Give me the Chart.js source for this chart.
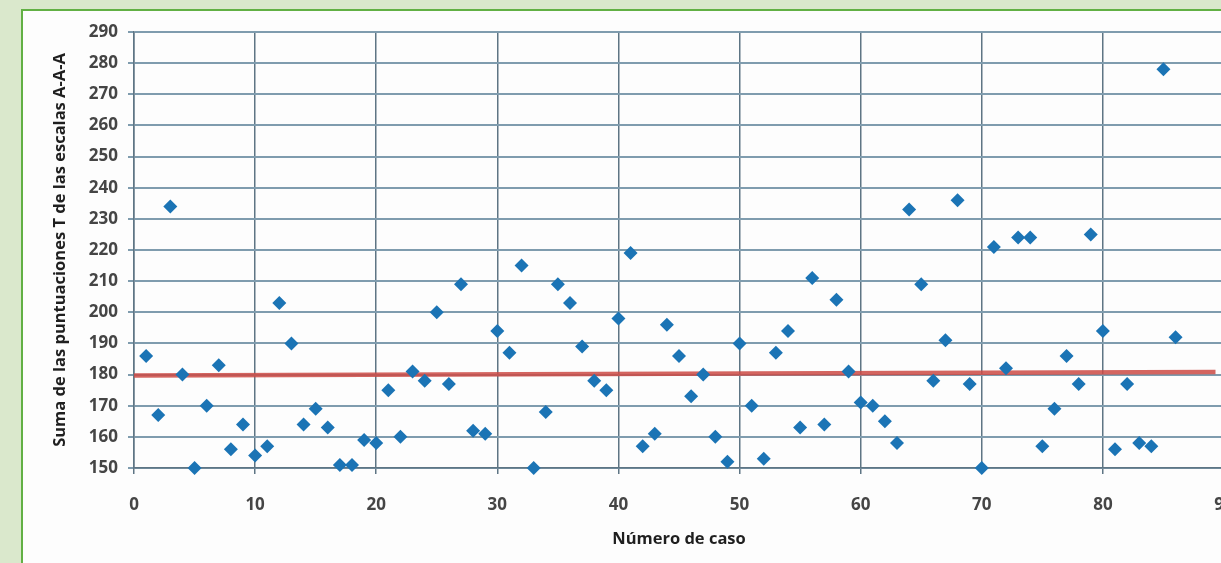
<!DOCTYPE html>
<html lang="es">
<head>
<meta charset="utf-8">
<title>Suma de las puntuaciones T</title>
<script src="https://cdn.jsdelivr.net/npm/chart.js@4/dist/chart.umd.min.js"></script>
<style>
    html, body {
        margin: 0;
        padding: 0;
        width: 1221px;
        height: 563px;
        overflow: hidden;
        background: #dae8cc;
    }
    .panel {
        position: absolute;
        left: 21px;
        top: 9px;
        width: 1300px;
        height: 700px;
        border: 2px solid #62b044;
        background: #fdfdfd;
    }
    #scoresChart {
        position: absolute;
        left: 0;
        top: 0;
    }
</style>
</head>
<body>
<div class="panel"></div>
<canvas id="scoresChart" width="1260" height="563"></canvas>
<script>
// Número de caso (eje X)
const caseNumbers = [
    1, 2, 3, 4, 5, 6, 7, 8, 9, 10,
    11, 12, 13, 14, 15, 16, 17, 18, 19, 20,
    21, 22, 23, 24, 25, 26, 27, 28, 29, 30,
    31, 32, 33, 34, 35, 36, 37, 38, 39, 40,
    41, 42, 43, 44, 45, 46, 47, 48, 49, 50,
    51, 52, 53, 54, 55, 56, 57, 58, 59, 60,
    61, 62, 63, 64, 65, 66, 67, 68, 69, 70,
    71, 72, 73, 74, 75, 76, 77, 78, 79, 80,
    81, 82, 83, 84, 85, 86
];

// Suma de las puntuaciones T (eje Y)
const scoreSums = [
    186, 167, 234, 180, 150, 170, 183, 156, 164, 154,
    157, 203, 190, 164, 169, 163, 151, 151, 159, 158,
    175, 160, 181, 178, 200, 177, 209, 162, 161, 194,
    187, 215, 150, 168, 209, 203, 189, 178, 175, 198,
    219, 157, 161, 196, 186, 173, 180, 160, 152, 190,
    170, 153, 187, 194, 163, 211, 164, 204, 181, 171,
    170, 165, 158, 233, 209, 178, 191, 236, 177, 150,
    221, 182, 224, 224, 157, 169, 186, 177, 225, 194,
    156, 177, 158, 157, 278, 192
];

// Línea de tendencia (extremos)
const trendX = [0, 89.3];
const trendY = [179.7, 180.8];

// Ticks de los ejes
const xTicks = [0, 10, 20, 30, 40, 50, 60, 70, 80, 90];
const yTicks = [150, 160, 170, 180, 190, 200, 210, 220, 230, 240, 250, 260, 270, 280, 290];

document.addEventListener('DOMContentLoaded', function() {
    const points = caseNumbers.map((x, i) => ({ x: x, y: scoreSums[i] }));
    const trend = trendX.map((x, i) => ({ x: x, y: trendY[i] }));

    Chart.defaults.font.family = "'Open Sans', sans-serif";

    const ctx = document.getElementById('scoresChart');

    // el primer dataset se dibuja encima
    new Chart(ctx, {
        type: 'scatter',
        data: {
            datasets: [{
                label: 'Casos',
                data: points,
                pointStyle: 'rectRot',
                pointRadius: 7,
                backgroundColor: '#1b74b5',
                borderColor: '#1b74b5',
                borderWidth: 0,
                clip: false
            }, {
                type: 'line',
                label: 'Tendencia',
                data: trend,
                borderColor: 'rgba(204, 74, 68, 0.85)',
                borderWidth: 4.5,
                pointRadius: 0,
                fill: false,
                tension: 0,
                clip: false
            }]
        },
        options: {
            responsive: false,
            animation: false,
            layout: {
                padding: { left: 30, top: 32, right: 36, bottom: 10 }
            },
            plugins: {
                legend: { display: false },
                tooltip: { enabled: false }
            },
            scales: {
                x: {
                    type: 'linear',
                    min: xTicks[0],
                    max: xTicks[xTicks.length - 1],
                    afterFit: function(scale) { scale.height = 85; },
                    afterBuildTicks: function(scale) {
                        scale.ticks = xTicks.map(v => ({ value: v }));
                    },
                    grid: {
                        color: '#5e7584',
                        lineWidth: 1.5,
                        tickLength: 6,
                        tickColor: '#5e7584'
                    },
                    border: { display: true, color: '#5e7584', width: 1.5 },
                    ticks: {
                        padding: 21,
                        color: '#454545',
                        font: { size: 17, weight: 'bold' }
                    },
                    title: {
                        display: true,
                        text: 'Número de caso',
                        color: '#1f1f1f',
                        font: { size: 16.5, weight: 'bold' },
                        padding: { top: 2, bottom: 4 }
                    }
                },
                y: {
                    min: yTicks[0],
                    max: yTicks[yTicks.length - 1],
                    afterFit: function(scale) { scale.width = 104; },
                    afterBuildTicks: function(scale) {
                        scale.ticks = yTicks.map(v => ({ value: v }));
                    },
                    grid: {
                        color: '#7f9cae',
                        lineWidth: 2,
                        tickLength: 6,
                        tickColor: '#7f9cae'
                    },
                    border: { display: true, color: '#5e7584', width: 1.5 },
                    ticks: {
                        padding: 10,
                        color: '#454545',
                        font: { size: 17, weight: 'bold' }
                    },
                    title: {
                        display: true,
                        text: 'Suma de las puntuaciones T de las escalas A-A-A',
                        color: '#1f1f1f',
                        font: { size: 16.5, weight: 'bold' },
                        padding: { top: 20, bottom: 4 }
                    }
                }
            }
        }
    });
});
</script>
</body>
</html>
